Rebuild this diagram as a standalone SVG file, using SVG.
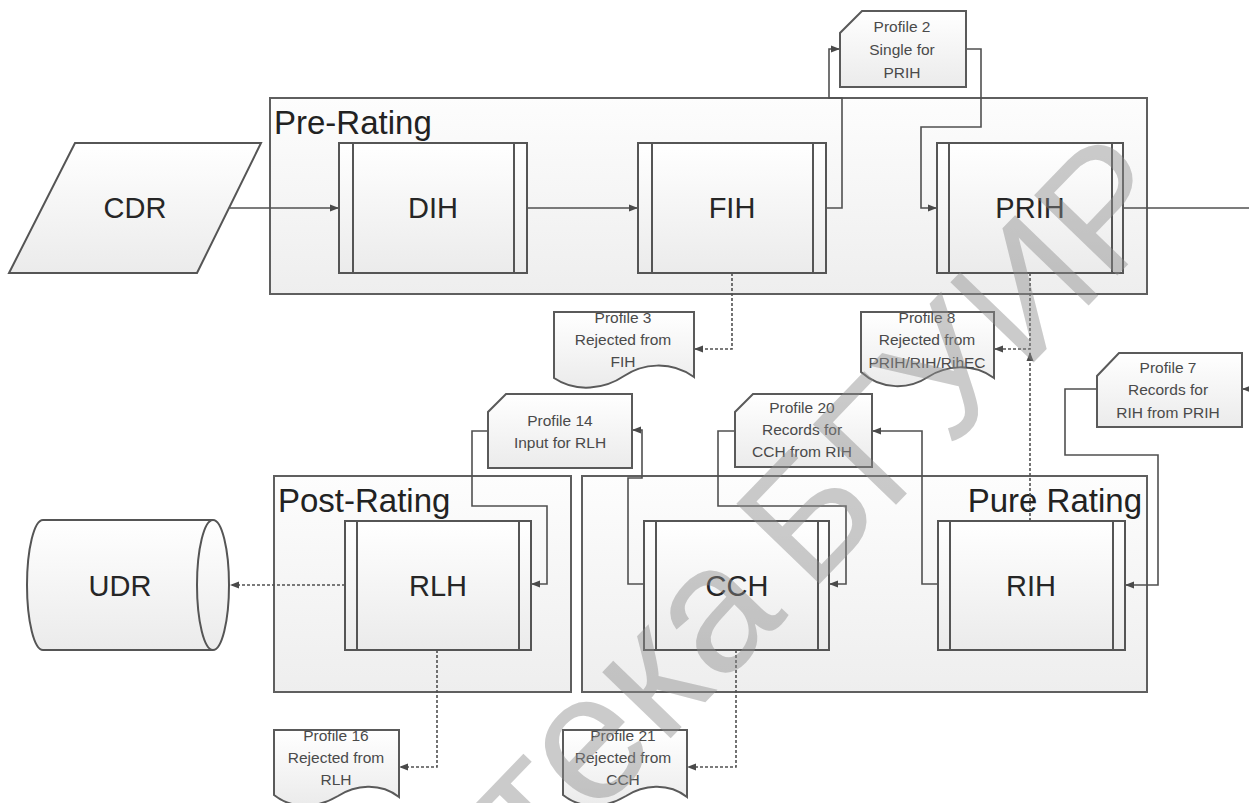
<svg xmlns="http://www.w3.org/2000/svg" width="1249" height="803" viewBox="0 0 1249 803">
<style>
.cont{stroke:#5f5f5f;stroke-width:2;fill:url(#gc)}
.box{stroke:#555;stroke-width:2;fill:url(#gn)}
.bar{stroke:#555;stroke-width:2;fill:none}
.prof{stroke:#5a5a5a;stroke-width:2;fill:url(#gn)}
.big{font-family:"Liberation Sans",Arial,sans-serif;font-size:29px;fill:#262626;text-anchor:middle}
.clab{font-family:"Liberation Sans",Arial,sans-serif;font-size:33px;fill:#222}
.pt{font-family:"Liberation Sans",Arial,sans-serif;font-size:15.5px;fill:#4a4a4a;text-anchor:middle}
.c{stroke:#505050;stroke-width:1.6;fill:none;marker-end:url(#ah)}
.d{stroke:#505050;stroke-width:1.6;fill:none;stroke-dasharray:3 2;marker-end:url(#ah)}
.wm{font-family:"Liberation Sans",Arial,sans-serif;fill:#8c8c8c;fill-opacity:0.45}
</style>
<defs>
<linearGradient id="gn" x1="0" y1="0" x2="0" y2="1"><stop offset="0" stop-color="#ffffff"/><stop offset="1" stop-color="#ebebeb"/></linearGradient>
<linearGradient id="gc" x1="0" y1="0" x2="0" y2="1"><stop offset="0" stop-color="#fdfdfd"/><stop offset="1" stop-color="#eeeeee"/></linearGradient>
<marker id="ah" markerUnits="userSpaceOnUse" markerWidth="10" markerHeight="8" refX="9" refY="4" orient="auto"><path d="M0,0.5 L9,4 L0,7.5 z" fill="#4a4a4a"/></marker>
</defs>
<rect width="1249" height="803" fill="#ffffff"/>

<g id="pre-rating">
<rect class="cont" x="270" y="98" width="877" height="196"/>
<text class="clab" x="274" y="134">Pre-Rating</text>
</g>
<g id="post-rating">
<rect class="cont" x="274" y="476" width="297" height="216"/>
<text class="clab" x="278" y="512">Post-Rating</text>
</g>
<g id="pure-rating">
<rect class="cont" x="582" y="476" width="565" height="216"/>
<text class="clab" x="1142" y="512" text-anchor="end">Pure Rating</text>
</g>

<g id="connectors">
<path class="c" d="M230,208 H339"/>
<path class="c" d="M527,208 H638"/>
<path class="c" d="M826,208 H842 V98 H829 V49 H840"/>
<path class="c" d="M966,49 H981 V127 H921 V208 H937"/>
<path class="c" d="M1123,208 H1249" style="marker-end:none"/>
<path class="d" d="M732,273 V349 H694"/>
<path class="d" d="M1030,273 V349 H994"/>
<path class="d" d="M1030,521 V352"/>
<path class="c" d="M1249,389 H1242"/>
<path class="c" d="M1097,389 H1065 V455 H1158 V585 H1125"/>
<path class="c" d="M938,584 H922 V431 H872"/>
<path class="c" d="M735,431 H718 V506 H846 V584 H829"/>
<path class="c" d="M644,584 H628 V478 H642 V430 H632"/>
<path class="c" d="M488,431 H472 V506 H547 V584 H531"/>
<path class="d" d="M345,585 H230"/>
<path class="d" d="M437,650 V767 H399"/>
<path class="d" d="M736,650 V767 H687"/>
</g>

<g id="CDR">
<path class="box" d="M75,143 H261 L197,273 H9 Z"/>
<text class="big" x="135" y="218">CDR</text>
</g>
<g id="DIH">
<rect class="box" x="339" y="143" width="188" height="130"/>
<path class="bar" d="M353,143 V273 M514,143 V273"/>
<text class="big" x="433" y="218">DIH</text>
</g>
<g id="FIH">
<rect class="box" x="638" y="143" width="188" height="130"/>
<path class="bar" d="M652,143 V273 M813,143 V273"/>
<text class="big" x="732" y="218">FIH</text>
</g>
<g id="PRIH">
<rect class="box" x="937" y="143" width="186" height="130"/>
<path class="bar" d="M949,143 V273 M1112,143 V273"/>
<text class="big" x="1030" y="218">PRIH</text>
</g>
<g id="RLH">
<rect class="box" x="345" y="521" width="186" height="129"/>
<path class="bar" d="M357,521 V650 M519,521 V650"/>
<text class="big" x="438" y="596">RLH</text>
</g>
<g id="CCH">
<rect class="box" x="644" y="521" width="185" height="129"/>
<path class="bar" d="M656,521 V650 M818,521 V650"/>
<text class="big" x="737" y="596">CCH</text>
</g>
<g id="RIH">
<rect class="box" x="938" y="521" width="187" height="129"/>
<path class="bar" d="M950,521 V650 M1113,521 V650"/>
<text class="big" x="1031" y="596">RIH</text>
</g>
<g id="UDR">
<path class="box" d="M43,520 H213 A16,65 0 0 1 213,650 H43 A16,65 0 0 1 43,520 Z"/>
<path class="bar" d="M213,520 A16,65 0 0 0 213,650"/>
<text class="big" x="120" y="596">UDR</text>
</g>

<g id="profile2">
<path class="prof" d="M862,11 H966 V87 H840 V33 Z"/>
<text class="pt" x="902" y="32">Profile 2</text>
<text class="pt" x="902" y="55">Single for</text>
<text class="pt" x="902" y="78">PRIH</text>
</g>
<g id="profile3">
<path class="prof" d="M554,312 H694 V377 C670,360 642,364 624,376 C605,389 576,393 554,378 Z"/>
<text class="pt" x="623" y="323">Profile  3</text>
<text class="pt" x="623" y="345">Rejected from</text>
<text class="pt" x="623" y="367">FIH</text>
</g>
<g id="profile8">
<path class="prof" d="M861,312 H994 V378 C972,362 945,366 928,377 C910,389 882,391 861,372 Z"/>
<text class="pt" x="927" y="323">Profile 8</text>
<text class="pt" x="927" y="345">Rejected from</text>
<text class="pt" x="927" y="368">PRIH/RIH/RihEC</text>
</g>
<g id="profile7">
<path class="prof" d="M1119,353 H1242 V427 H1097 V376 Z"/>
<text class="pt" x="1168" y="373">Profile 7</text>
<text class="pt" x="1168" y="395">Records for</text>
<text class="pt" x="1168" y="418">RIH from PRIH</text>
</g>
<g id="profile14">
<path class="prof" d="M506,394 H632 V468 H488 V412 Z"/>
<text class="pt" x="560" y="426">Profile 14</text>
<text class="pt" x="560" y="448">Input for RLH</text>
</g>
<g id="profile20">
<path class="prof" d="M753,394 H872 V467 H735 V412 Z"/>
<text class="pt" x="802" y="413">Profile 20</text>
<text class="pt" x="802" y="435">Records for</text>
<text class="pt" x="802" y="457">CCH from RIH</text>
</g>
<g id="profile16">
<path class="prof" d="M274,730 H399 V797 C380,782 355,785 338,796 C318,808 293,810 274,795 Z"/>
<text class="pt" x="336" y="741">Profile 16</text>
<text class="pt" x="336" y="763">Rejected from</text>
<text class="pt" x="336" y="785">RLH</text>
</g>
<g id="profile21">
<path class="prof" d="M563,730 H687 V797 C668,782 643,785 626,796 C606,808 582,810 563,795 Z"/>
<text class="pt" x="623" y="741">Profile 21</text>
<text class="pt" x="623" y="763">Rejected from</text>
<text class="pt" x="623" y="785">CCH</text>
</g>

<g id="watermark">
<text class="wm" font-size="180" transform="translate(810,594) rotate(-46)" text-anchor="end" x="-30">Библиотека</text>
<text class="wm" font-size="168" transform="translate(810,594) rotate(-46)">БГУИР</text>
</g>
</svg>
